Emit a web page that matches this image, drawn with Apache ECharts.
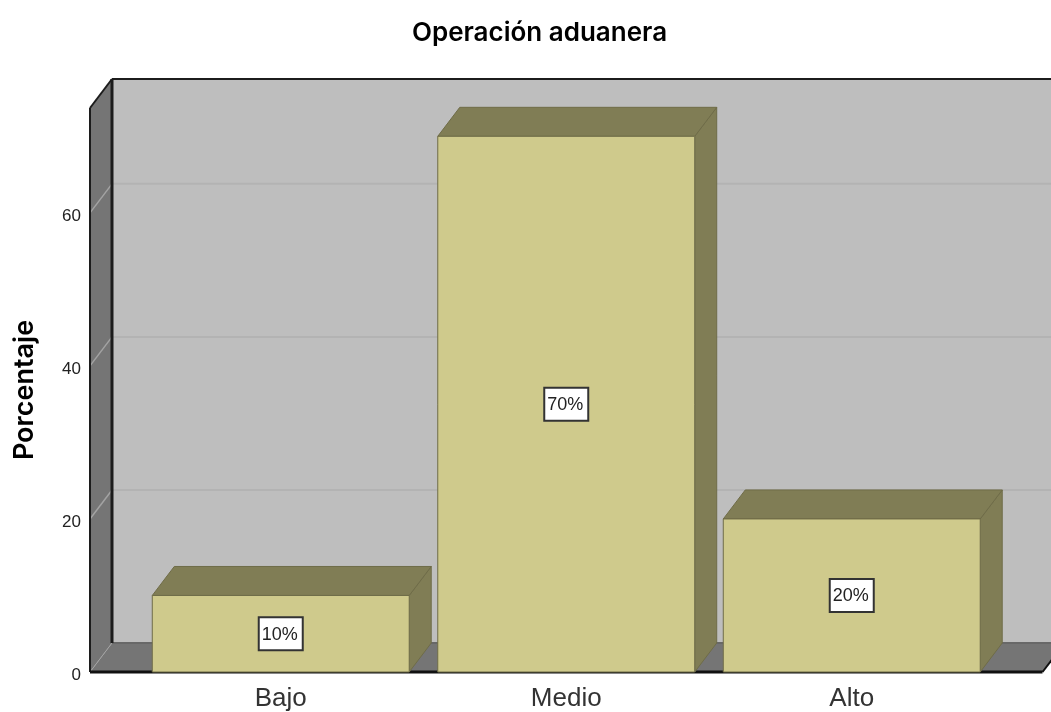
<!DOCTYPE html>
<html>
<head>
<meta charset="utf-8">
<style>
  html, body { margin: 0; padding: 0; background: #fff; }
  #chart { width: 1051px; height: 712px; }
</style>
<script src="https://cdn.jsdelivr.net/npm/echarts@6/dist/echarts.min.js"></script>
</head>
<body>
<div id="chart"></div>
<script>
  const titleText = 'Operación aduanera'
  const yAxisName = 'Porcentaje'
  const categories = ['Bajo', 'Medio', 'Alto']
  const percentages = [10, 70, 20]
  const barLabels = ['10%', '70%', '20%']
  const yTicks = [0, 20, 40, 60]
  const yMax = 73.7

  // fake 3d depth of the box, in pixels
  const depthX = 22
  const depthY = -29
  const wallOverhang = 48

  const font = '"Liberation Sans", Arial, sans-serif'
  const boldFont = 'Inter, "Liberation Sans", Arial, sans-serif'

  function poly(points, fill, stroke, lineWidth) {
    return {
      type: 'polygon',
      shape: { points: points },
      style: { fill: fill, stroke: stroke || null, lineWidth: lineWidth || 0 }
    }
  }

  function line(a, b, stroke, lineWidth) {
    return {
      type: 'line',
      shape: { x1: a[0], y1: a[1], x2: b[0], y2: b[1] },
      style: { stroke: stroke, lineWidth: lineWidth }
    }
  }

  function renderWalls(params, api) {
    const rect = params.coordSys
    const left = rect.x - wallOverhang
    const right = rect.x + rect.width + wallOverhang
    const bottom = api.coord([0, 0])[1]
    const top = api.coord([0, yMax])[1]
    const children = [
      // back wall, left wall, floor
      poly([[left + depthX, top + depthY], [right + depthX, top + depthY], [right + depthX, bottom + depthY], [left + depthX, bottom + depthY]], '#bebebe'),
      poly([[left, top], [left + depthX, top + depthY], [left + depthX, bottom + depthY], [left, bottom]], '#757575'),
      poly([[left, bottom], [left + depthX, bottom + depthY], [right + depthX, bottom + depthY], [right, bottom]], '#757575')
    ]
    yTicks.forEach(function (v) {
      if (v === 0) return
      const y = api.coord([0, v])[1]
      children.push(line([left, y], [left + depthX, y + depthY], '#a3a3a3', 1.5))
      children.push(line([left + depthX, y + depthY], [right + depthX, y + depthY], '#b3b3b3', 2))
    })
    children.push(line([left, bottom], [left + depthX, bottom + depthY], '#a3a3a3', 1))
    children.push(line([left + depthX, bottom + depthY], [right + depthX, bottom + depthY], '#686868', 2))
    children.push(line([left, top], [left, bottom], '#1c1c1c', 2))
    children.push(line([left, top], [left + depthX, top + depthY], '#1c1c1c', 2))
    children.push(line([left + depthX, top + depthY], [left + depthX, bottom + depthY], '#1c1c1c', 3))
    children.push(line([left + depthX, top + depthY], [right + depthX, top + depthY], '#1c1c1c', 2))
    children.push(line([left, bottom], [right, bottom], '#111', 3))
    children.push(line([right, bottom], [right + depthX, bottom + depthY], '#111', 2))
    return { type: 'group', children: children }
  }

  function renderBar(params, api) {
    const idx = api.value(0)
    const val = api.value(1)
    const bandWidth = api.size([1, 0])[0]
    const w = bandWidth * 0.9
    const center = api.coord([idx, 0])[0]
    const x0 = center - w / 2
    const x1 = center + w / 2
    const y0 = api.coord([idx, 0])[1]
    const y1 = api.coord([idx, val])[1]
    const midY = api.coord([idx, val / 2])[1]
    const edge = '#6f6c48'
    return {
      type: 'group',
      children: [
        poly([[x1, y1], [x1 + depthX, y1 + depthY], [x1 + depthX, y0 + depthY], [x1, y0]], '#807d55', edge, 1),
        poly([[x0, y1], [x0 + depthX, y1 + depthY], [x1 + depthX, y1 + depthY], [x1, y1]], '#807d55', edge, 1),
        poly([[x0, y0], [x0, y1], [x1, y1], [x1, y0]], '#cfca8c', edge, 1),
        {
          type: 'rect',
          shape: { x: center - 22, y: midY - 16.5, width: 44, height: 33 },
          style: { fill: '#fff', stroke: '#333', lineWidth: 2 }
        },
        {
          type: 'text',
          x: center - 1,
          y: midY + 1,
          style: {
            text: barLabels[params.dataIndex],
            fill: '#222',
            font: '18px ' + font,
            align: 'center',
            verticalAlign: 'middle'
          }
        }
      ]
    }
  }

  const chart = echarts.init(document.getElementById('chart'), null, { renderer: 'canvas' })
  chart.setOption({
    animation: false,
    backgroundColor: '#fff',
    title: {
      text: titleText,
      left: 539.5,
      top: 20,
      padding: 0,
      textAlign: 'center',
      textStyle: { fontFamily: boldFont, fontSize: 26, fontWeight: 600, color: '#000' }
    },
    grid: { left: 138, top: 108, width: 856.5, height: 564, outerBoundsMode: 'none' },
    xAxis: {
      type: 'category',
      data: categories,
      axisLine: { show: false },
      axisTick: { show: false },
      axisLabel: { fontFamily: font, fontSize: 26, color: '#333', margin: 14 }
    },
    yAxis: {
      type: 'value',
      min: 0,
      max: yMax,
      interval: 20,
      offset: wallOverhang,
      name: yAxisName,
      nameLocation: 'middle',
      nameGap: 52,
      nameTextStyle: { fontFamily: boldFont, fontSize: 27, fontWeight: 600, color: '#000' },
      axisLine: { show: false },
      axisTick: { show: false },
      splitLine: { show: false },
      // labels sit a little below their tick in the reference
      axisLabel: { fontFamily: font, fontSize: 17, color: '#222', margin: 9, showMaxLabel: false, verticalAlign: 'top', lineHeight: 7 }
    },
    series: [
      {
        type: 'custom',
        silent: true,
        clip: false,
        z: 1,
        renderItem: renderWalls,
        data: [[0, 0]]
      },
      {
        type: 'custom',
        silent: true,
        clip: false,
        z: 2,
        renderItem: renderBar,
        data: percentages.map(function (v, i) { return [i, v] })
      }
    ]
  })
</script>
</body>
</html>
